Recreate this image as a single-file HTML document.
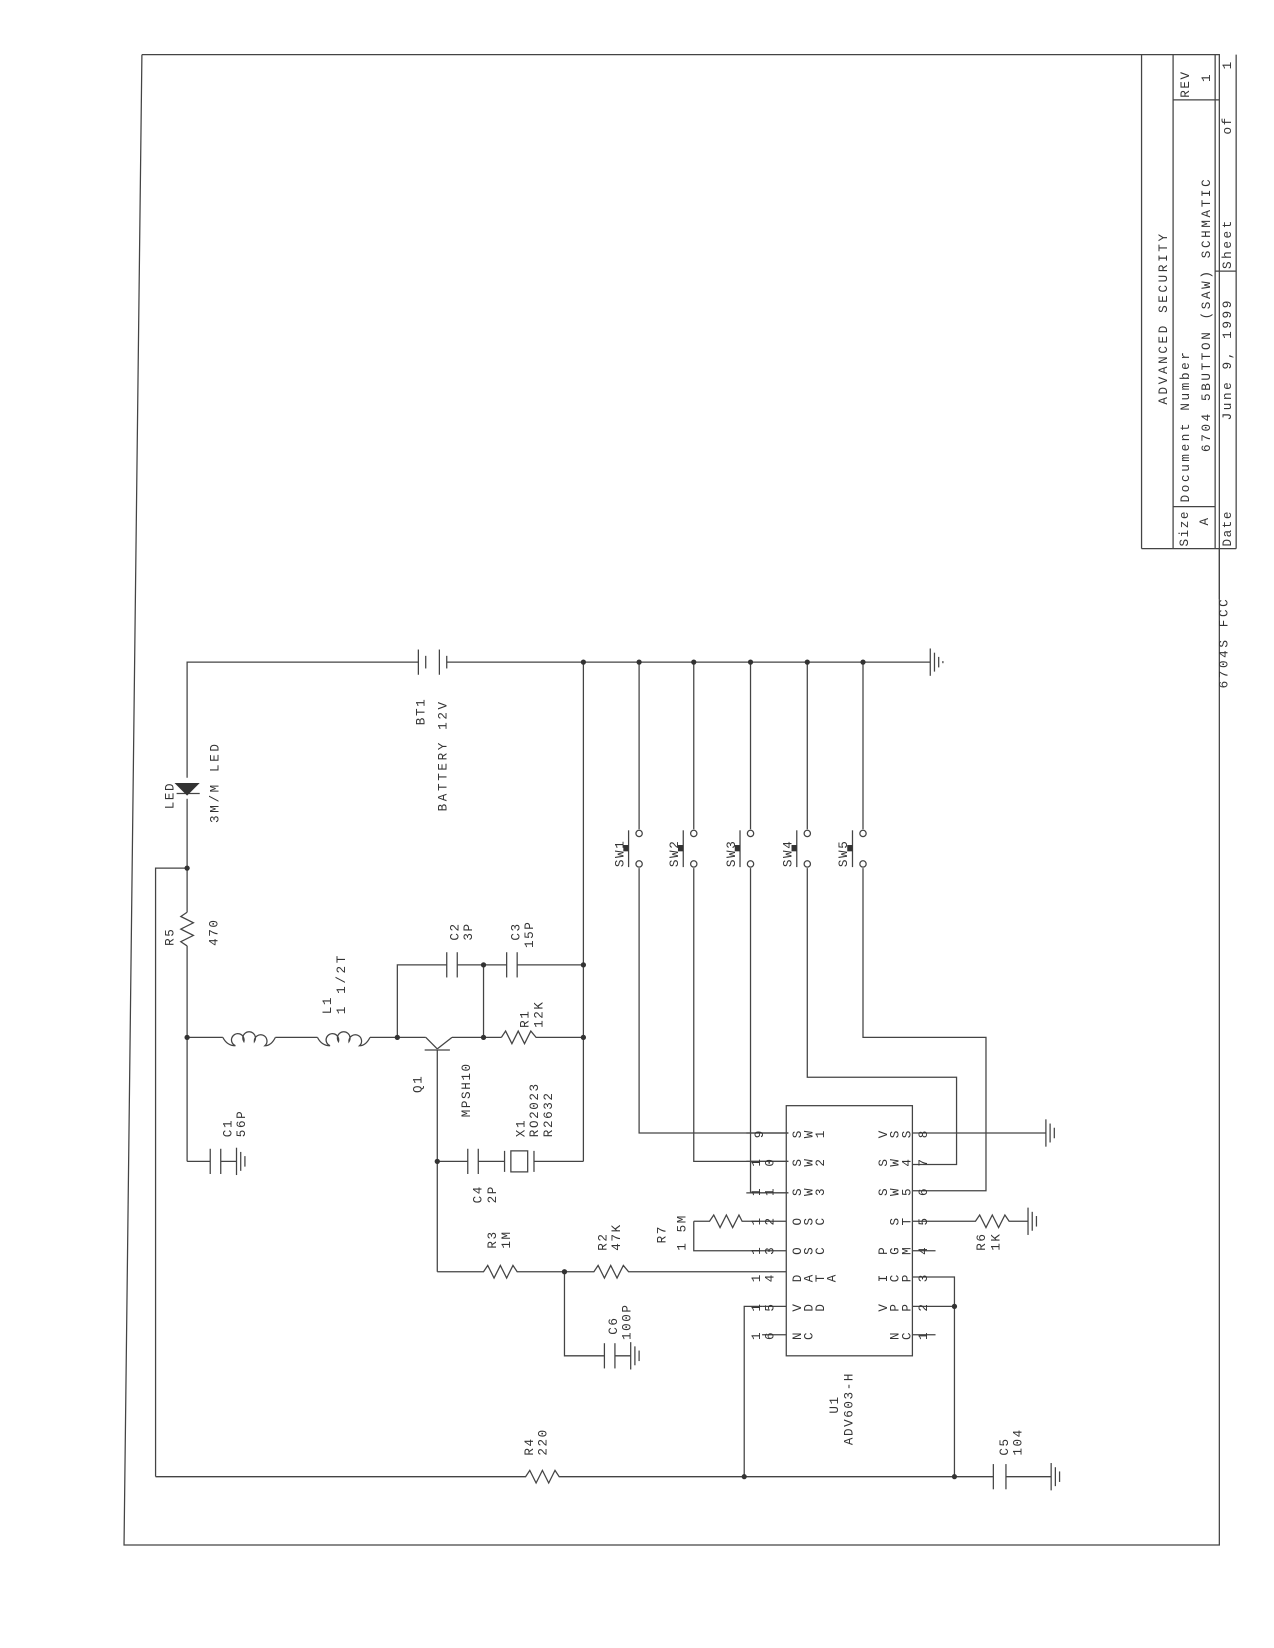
<!DOCTYPE html>
<html><head><meta charset="utf-8"><style>
html,body{margin:0;padding:0;background:#fff;}
svg{display:block}
text{font-family:"Liberation Mono","DejaVu Sans Mono",monospace;fill:#333;font-size:12px;letter-spacing:1.5px}
</style></head><body>
<svg width="1274" height="1648" viewBox="0 0 1212 1568" preserveAspectRatio="none" xmlns="http://www.w3.org/2000/svg">
<rect width="1212" height="1568" fill="#fff"/>
<g stroke="#444" stroke-width="1.2" fill="none">
<polyline points="135,52 1160,52 1160,1470 118,1470 135,52"/>
<line x1="1086" y1="52" x2="1086" y2="522"/>
<line x1="1116" y1="52" x2="1116" y2="522"/>
<line x1="1156" y1="52" x2="1156" y2="522"/>
<line x1="1176" y1="52" x2="1176" y2="522"/>
<line x1="1086" y1="522" x2="1176" y2="522"/>
<line x1="1116" y1="482" x2="1156" y2="482"/>
<line x1="1116" y1="95" x2="1160" y2="95"/>
<line x1="1156" y1="258" x2="1176" y2="258"/>
<line x1="1160" y1="522" x2="1160" y2="570"/>
<polyline points="178,740 178,630 398,630"/>
<line x1="398" y1="618" x2="398" y2="642"/><line x1="405" y1="624" x2="405" y2="636"/>
<line x1="418" y1="618" x2="418" y2="642"/><line x1="425" y1="624" x2="425" y2="636"/>
<line x1="425" y1="630" x2="885" y2="630"/>
<line x1="885" y1="617" x2="885" y2="643"/><line x1="889" y1="621" x2="889" y2="639"/><line x1="893" y1="625" x2="893" y2="635"/><line x1="897" y1="629" x2="897" y2="631"/>
<line x1="555" y1="630" x2="555" y2="1105"/>
<polyline points="608,630 608,789 "/><polyline points="608,826 608,1078 750,1078"/>
<polyline points="660,630 660,789"/><polyline points="660,826 660,1105 750,1105"/>
<polyline points="714,630 714,789"/><polyline points="714,826 714,1135 750,1135"/>
<polyline points="768,630 768,789"/><polyline points="768,826 768,1025 910,1025 910,1108 868,1108"/>
<polyline points="821,630 821,789"/><polyline points="821,826 821,987 938,987 938,1133 868,1133"/>
<g>
<line x1="598" y1="790" x2="598" y2="825"/><line x1="650" y1="790" x2="650" y2="825"/><line x1="704" y1="790" x2="704" y2="825"/><line x1="758" y1="790" x2="758" y2="825"/><line x1="811" y1="790" x2="811" y2="825"/>
<circle cx="608" cy="793" r="3"/><circle cx="608" cy="822" r="3"/>
<circle cx="660" cy="793" r="3"/><circle cx="660" cy="822" r="3"/>
<circle cx="714" cy="793" r="3"/><circle cx="714" cy="822" r="3"/>
<circle cx="768" cy="793" r="3"/><circle cx="768" cy="822" r="3"/>
<circle cx="821" cy="793" r="3"/><circle cx="821" cy="822" r="3"/>
</g>
<line x1="178" y1="760" x2="178" y2="868"/>
<line x1="168" y1="755" x2="190" y2="755"/>
<polyline points="148,1405 148,826 178,826"/>
<polyline points="178,868 172,872 184,878 172,884 184,890 172,896 178,900"/>
<line x1="178" y1="900" x2="178" y2="1105"/>
<polyline points="178,1105 200,1105"/>
<line x1="200" y1="1093" x2="200" y2="1117"/><line x1="210" y1="1093" x2="210" y2="1117"/>
<line x1="210" y1="1105" x2="225" y2="1105"/>
<line x1="225" y1="1092" x2="225" y2="1118"/><line x1="229" y1="1096" x2="229" y2="1114"/><line x1="233" y1="1100" x2="233" y2="1110"/>
<line x1="178" y1="987" x2="212" y2="987"/>
<path d="M212,987 q4,8 12,8 M224,995 a6,6 0 1 1 8,-4 a6,6 0 1 1 10,0 a6,6 0 1 1 10,4 q6,0 10,-8"/>
<line x1="262" y1="987" x2="302" y2="987"/>
<path d="M302,987 q4,8 12,8 M314,995 a6,6 0 1 1 8,-4 a6,6 0 1 1 10,0 a6,6 0 1 1 10,4 q6,0 10,-8"/>
<line x1="352" y1="987" x2="405" y2="987"/>
<line x1="405" y1="987" x2="416" y2="998"/>
<line x1="416" y1="998" x2="430" y2="987"/>
<line x1="404" y1="999" x2="428" y2="999"/>
<line x1="430" y1="987" x2="477" y2="987"/>
<line x1="416" y1="999" x2="416" y2="1210"/>
<polyline points="477,987 481,981 487,993 493,981 499,993 505,981 510,987 555,987"/>
<polyline points="378,987 378,918 425,918"/>
<line x1="425" y1="906" x2="425" y2="930"/><line x1="435" y1="906" x2="435" y2="930"/>
<line x1="435" y1="918" x2="482" y2="918"/>
<line x1="482" y1="906" x2="482" y2="930"/><line x1="492" y1="906" x2="492" y2="930"/>
<line x1="492" y1="918" x2="555" y2="918"/>
<line x1="460" y1="918" x2="460" y2="987"/>
<line x1="416" y1="1105" x2="445" y2="1105"/>
<line x1="445" y1="1093" x2="445" y2="1117"/><line x1="455" y1="1093" x2="455" y2="1117"/>
<line x1="455" y1="1105" x2="480" y2="1105"/>
<line x1="480" y1="1095" x2="480" y2="1115"/><rect x="486" y="1095" width="16" height="20"/><line x1="508" y1="1095" x2="508" y2="1115"/>
<line x1="508" y1="1105" x2="555" y2="1105"/>
<polyline points="416,1210 460,1210 464,1204 470,1216 476,1204 482,1216 488,1204 492,1210 565,1210 569,1204 575,1216 581,1204 587,1216 593,1204 598,1210 748,1210"/>
<polyline points="537,1210 537,1290 575,1290"/>
<line x1="575" y1="1278" x2="575" y2="1302"/><line x1="585" y1="1278" x2="585" y2="1302"/>
<line x1="585" y1="1290" x2="600" y2="1290"/>
<line x1="600" y1="1277" x2="600" y2="1303"/><line x1="604" y1="1281" x2="604" y2="1299"/><line x1="608" y1="1285" x2="608" y2="1295"/>
<rect x="748" y="1052" width="120" height="238"/>
<line x1="710" y1="1078" x2="750" y2="1078"/>
<line x1="710" y1="1105" x2="750" y2="1105"/>
<line x1="710" y1="1135" x2="750" y2="1135"/>
<polyline points="660,1162 675,1162 679,1156 685,1168 691,1156 697,1168 703,1156 706,1162 748,1162"/>
<polyline points="660,1162 660,1190 748,1190"/>
<line x1="725" y1="1243" x2="748" y2="1243"/>
<line x1="725" y1="1270" x2="748" y2="1270"/>
<polyline points="708,1405 708,1243 725,1243"/>
<polyline points="868,1078 995,1078"/>
<line x1="995" y1="1065" x2="995" y2="1091"/><line x1="999" y1="1069" x2="999" y2="1087"/><line x1="1003" y1="1073" x2="1003" y2="1083"/>
<polyline points="868,1162 928,1162 932,1156 938,1168 944,1156 950,1168 956,1156 960,1162 978,1162"/>
<line x1="978" y1="1149" x2="978" y2="1175"/><line x1="982" y1="1153" x2="982" y2="1171"/><line x1="986" y1="1157" x2="986" y2="1167"/>
<line x1="868" y1="1190" x2="890" y2="1190"/>
<polyline points="868,1215 908,1215 908,1405"/>
<line x1="868" y1="1243" x2="908" y2="1243"/>
<line x1="868" y1="1270" x2="890" y2="1270"/>
<polyline points="148,1405 500,1405 504,1399 510,1411 516,1399 522,1411 528,1399 532,1405 945,1405"/>
<line x1="945" y1="1393" x2="945" y2="1417"/>
<line x1="957" y1="1393" x2="957" y2="1417"/>
<line x1="957" y1="1405" x2="1000" y2="1405"/>
<line x1="1000" y1="1392" x2="1000" y2="1418"/><line x1="1004" y1="1396" x2="1004" y2="1414"/><line x1="1008" y1="1400" x2="1008" y2="1410"/>
</g>
<polygon points="166,745 190,745 178,757" fill="#333"/>
<g fill="#333"><rect x="593" y="804" width="5" height="6"/><rect x="645" y="804" width="5" height="6"/><rect x="699" y="804" width="5" height="6"/><rect x="753" y="804" width="5" height="6"/><rect x="806" y="804" width="5" height="6"/></g>
<g fill="#333">
<circle cx="555" cy="630" r="2.5"/><circle cx="608" cy="630" r="2.5"/><circle cx="660" cy="630" r="2.5"/><circle cx="714" cy="630" r="2.5"/><circle cx="768" cy="630" r="2.5"/><circle cx="821" cy="630" r="2.5"/>
<circle cx="178" cy="826" r="2.5"/><circle cx="178" cy="987" r="2.5"/><circle cx="378" cy="987" r="2.5"/><circle cx="460" cy="987" r="2.5"/><circle cx="555" cy="987" r="2.5"/><circle cx="460" cy="918" r="2.5"/><circle cx="555" cy="918" r="2.5"/>
<circle cx="416" cy="1105" r="2.5"/><circle cx="537" cy="1210" r="2.5"/><circle cx="908" cy="1243" r="2.5"/><circle cx="708" cy="1405" r="2.5"/><circle cx="908" cy="1405" r="2.5"/>
</g>
<g>
<text transform="translate(1110,385) rotate(-90)" font-size="13" style="letter-spacing:2.5px">ADVANCED   SECURITY</text>
<text transform="translate(1131,478) rotate(-90)" style="letter-spacing:2.5px">Document Number</text>
<text transform="translate(1130,520) rotate(-90)">Size</text>
<text transform="translate(1149,500) rotate(-90)">A</text>
<text transform="translate(1151,430) rotate(-90)" font-size="13" style="letter-spacing:2.5px">6704 5BUTTON (SAW) SCHMATIC</text>
<text transform="translate(1131,93) rotate(-90)">REV</text>
<text transform="translate(1151,78) rotate(-90)">1</text>
<text transform="translate(1171,520) rotate(-90)">Date</text>
<text transform="translate(1171,400) rotate(-90)" style="letter-spacing:2.5px">June  9, 1999</text>
<text transform="translate(1171,256) rotate(-90)" style="letter-spacing:2.5px">Sheet</text>
<text transform="translate(1171,128) rotate(-90)">of</text>
<text transform="translate(1171,66) rotate(-90)">1</text>
<text transform="translate(1168,655) rotate(-90)" style="letter-spacing:2.5px">6704S FCC</text>
<text transform="translate(404,690) rotate(-90)">BT1</text>
<text transform="translate(425,772) rotate(-90)" style="letter-spacing:2.5px">BATTERY 12V</text>
<text transform="translate(165,770) rotate(-90)">LED</text>
<text transform="translate(208,783) rotate(-90)" style="letter-spacing:2.5px">3M/M LED</text>
<text transform="translate(165,900) rotate(-90)">R5</text>
<text transform="translate(207,900) rotate(-90)">470</text>
<text transform="translate(315,965) rotate(-90)">L1</text>
<text transform="translate(328,965) rotate(-90)" style="letter-spacing:2.5px">1  1/2T</text>
<text transform="translate(436,895) rotate(-90)">C2</text>
<text transform="translate(449,895) rotate(-90)">3P</text>
<text transform="translate(494,895) rotate(-90)">C3</text>
<text transform="translate(507,902) rotate(-90)">15P</text>
<text transform="translate(503,978) rotate(-90)">R1</text>
<text transform="translate(516,978) rotate(-90)">12K</text>
<text transform="translate(401,1040) rotate(-90)">Q1</text>
<text transform="translate(447,1063) rotate(-90)">MPSH10</text>
<text transform="translate(499,1082) rotate(-90)">X1</text>
<text transform="translate(512,1082) rotate(-90)">RO2023</text>
<text transform="translate(525,1082) rotate(-90)">R2632</text>
<text transform="translate(220,1082) rotate(-90)">C1</text>
<text transform="translate(233,1082) rotate(-90)">56P</text>
<text transform="translate(458,1145) rotate(-90)">C4</text>
<text transform="translate(472,1145) rotate(-90)">2P</text>
<text transform="translate(472,1188) rotate(-90)">R3</text>
<text transform="translate(485,1188) rotate(-90)">1M</text>
<text transform="translate(577,1190) rotate(-90)">R2</text>
<text transform="translate(590,1190) rotate(-90)">47K</text>
<text transform="translate(633,1183) rotate(-90)">R7</text>
<text transform="translate(652,1190) rotate(-90)">1 5M</text>
<text transform="translate(587,1270) rotate(-90)">C6</text>
<text transform="translate(600,1275) rotate(-90)">100P</text>
<text transform="translate(797,1345) rotate(-90)">U1</text>
<text transform="translate(811,1375) rotate(-90)">ADV603-H</text>
<text transform="translate(507,1385) rotate(-90)">R4</text>
<text transform="translate(520,1385) rotate(-90)">220</text>
<text transform="translate(959,1385) rotate(-90)">C5</text>
<text transform="translate(972,1385) rotate(-90)">104</text>
<text transform="translate(937,1190) rotate(-90)">R6</text>
<text transform="translate(951,1190) rotate(-90)">1K</text>
<text transform="translate(593,825) rotate(-90)">SW1</text>
<text transform="translate(645,825) rotate(-90)">SW2</text>
<text transform="translate(699,825) rotate(-90)">SW3</text>
<text transform="translate(753,825) rotate(-90)">SW4</text>
<text transform="translate(806,825) rotate(-90)">SW5</text>
</g>
<!-- U1 per-glyph labels -->
<g font-size="11" style="letter-spacing:0">
<!-- left pin numbers -->
<text transform="translate(726,1083) rotate(-90)">9</text>
<text transform="translate(723,1110) rotate(-90)">1</text><text transform="translate(736,1110) rotate(-90)">0</text>
<text transform="translate(723,1138) rotate(-90)">1</text><text transform="translate(736,1138) rotate(-90)">1</text>
<text transform="translate(723,1166) rotate(-90)">1</text><text transform="translate(736,1166) rotate(-90)">2</text>
<text transform="translate(723,1194) rotate(-90)">1</text><text transform="translate(736,1194) rotate(-90)">3</text>
<text transform="translate(723,1220) rotate(-90)">1</text><text transform="translate(736,1220) rotate(-90)">4</text>
<text transform="translate(723,1248) rotate(-90)">1</text><text transform="translate(736,1248) rotate(-90)">5</text>
<text transform="translate(723,1275) rotate(-90)">1</text><text transform="translate(736,1275) rotate(-90)">6</text>
<!-- left names -->
<text transform="translate(762,1083) rotate(-90)">S</text><text transform="translate(773,1083) rotate(-90)">W</text><text transform="translate(784,1083) rotate(-90)">1</text>
<text transform="translate(762,1110) rotate(-90)">S</text><text transform="translate(773,1110) rotate(-90)">W</text><text transform="translate(784,1110) rotate(-90)">2</text>
<text transform="translate(762,1138) rotate(-90)">S</text><text transform="translate(773,1138) rotate(-90)">W</text><text transform="translate(784,1138) rotate(-90)">3</text>
<text transform="translate(762,1166) rotate(-90)">O</text><text transform="translate(773,1166) rotate(-90)">S</text><text transform="translate(784,1166) rotate(-90)">C</text>
<text transform="translate(762,1194) rotate(-90)">O</text><text transform="translate(773,1194) rotate(-90)">S</text><text transform="translate(784,1194) rotate(-90)">C</text>
<text transform="translate(762,1220) rotate(-90)">D</text><text transform="translate(773,1220) rotate(-90)">A</text><text transform="translate(784,1220) rotate(-90)">T</text><text transform="translate(795,1220) rotate(-90)">A</text>
<text transform="translate(762,1248) rotate(-90)">V</text><text transform="translate(773,1248) rotate(-90)">D</text><text transform="translate(784,1248) rotate(-90)">D</text>
<text transform="translate(762,1275) rotate(-90)">N</text><text transform="translate(773,1275) rotate(-90)">C</text>
<!-- right names -->
<text transform="translate(844,1083) rotate(-90)">V</text><text transform="translate(855,1083) rotate(-90)">S</text><text transform="translate(866,1083) rotate(-90)">S</text>
<text transform="translate(844,1110) rotate(-90)">S</text><text transform="translate(855,1110) rotate(-90)">W</text><text transform="translate(866,1110) rotate(-90)">4</text>
<text transform="translate(844,1138) rotate(-90)">S</text><text transform="translate(855,1138) rotate(-90)">W</text><text transform="translate(866,1138) rotate(-90)">5</text>
<text transform="translate(855,1166) rotate(-90)">S</text><text transform="translate(866,1166) rotate(-90)">T</text>
<text transform="translate(844,1194) rotate(-90)">P</text><text transform="translate(855,1194) rotate(-90)">G</text><text transform="translate(866,1194) rotate(-90)">M</text>
<text transform="translate(844,1220) rotate(-90)">I</text><text transform="translate(855,1220) rotate(-90)">C</text><text transform="translate(866,1220) rotate(-90)">P</text>
<text transform="translate(844,1248) rotate(-90)">V</text><text transform="translate(855,1248) rotate(-90)">P</text><text transform="translate(866,1248) rotate(-90)">P</text>
<text transform="translate(855,1275) rotate(-90)">N</text><text transform="translate(866,1275) rotate(-90)">C</text>
<!-- right pin numbers -->
<text transform="translate(882,1083) rotate(-90)">8</text>
<text transform="translate(882,1110) rotate(-90)">7</text>
<text transform="translate(882,1138) rotate(-90)">6</text>
<text transform="translate(882,1166) rotate(-90)">5</text>
<text transform="translate(882,1194) rotate(-90)">4</text>
<text transform="translate(882,1220) rotate(-90)">3</text>
<text transform="translate(882,1248) rotate(-90)">2</text>
<text transform="translate(882,1275) rotate(-90)">1</text>
</g>
</svg>
</body></html>
